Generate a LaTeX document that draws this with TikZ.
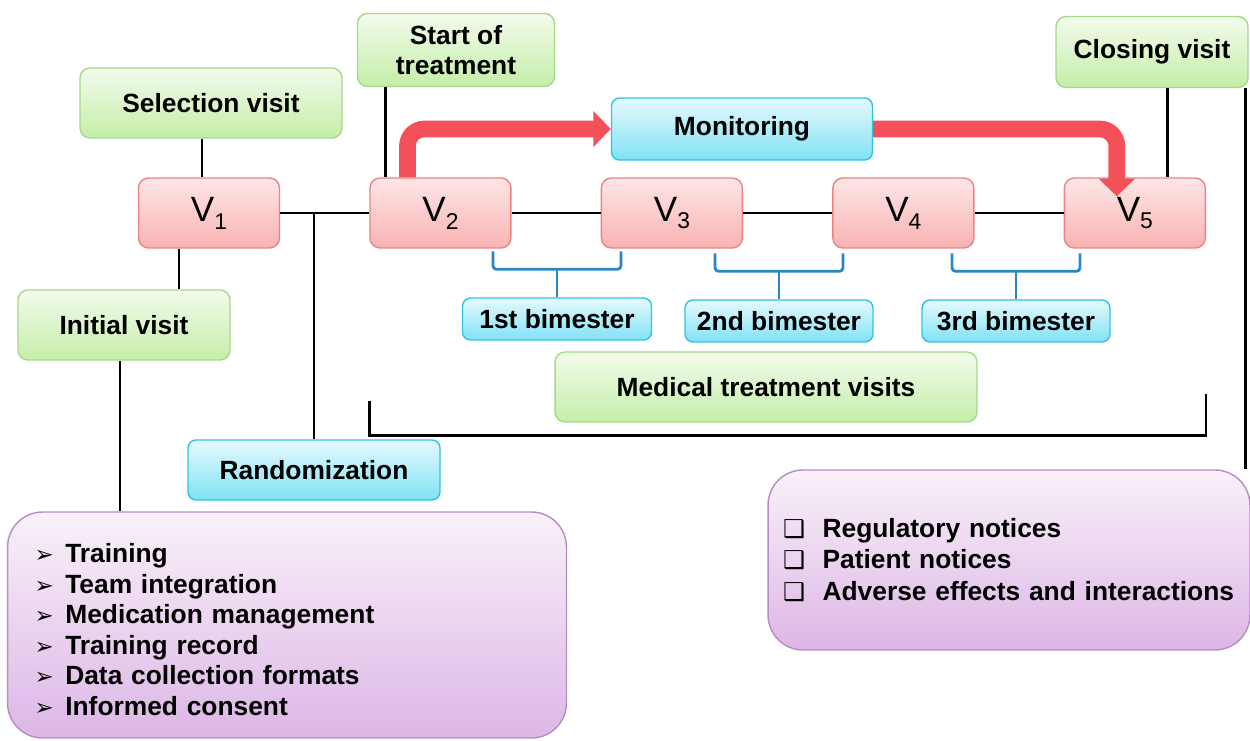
\documentclass[tikz,border=0pt]{standalone}
\usepackage{fontspec}
\setmainfont{Liberation Sans}
\newfontfamily\symfont{DejaVu Sans}
\usepackage{xcolor}
\usetikzlibrary{positioning,calc,arrows.meta}

\definecolor{visittop}{HTML}{FFE6E6}
\definecolor{visitbot}{HTML}{F8B2B2}
\definecolor{visitline}{HTML}{EE8282}
\definecolor{phasetop}{HTML}{F3FBEC}
\definecolor{phasebot}{HTML}{C4EEA8}
\definecolor{phaseline}{HTML}{A6D88C}
\definecolor{notetop}{HTML}{E6F9FE}
\definecolor{notebot}{HTML}{80E2F4}
\definecolor{noteline}{HTML}{30C4DE}
\definecolor{listtop}{HTML}{F9F1F9}
\definecolor{listbot}{HTML}{DDB6E6}
\definecolor{listline}{HTML}{B68CC4}
\definecolor{braceblue}{HTML}{2B86C5}
\definecolor{flowred}{HTML}{F4505A}

\tikzset{visit/.style = {rectangle,rounded corners=0.2cm,draw=visitline,thick,top color=visittop,bottom color=visitbot,
                         minimum width=2.82cm,minimum height=1.4cm,font=\fontsize{20}{24}\selectfont}}
\tikzset{phase/.style = {rectangle,rounded corners=0.2cm,draw=phaseline,thick,top color=phasetop,bottom color=phasebot,
                         font=\fontsize{15}{17.4}\selectfont\bfseries,align=center}}
\tikzset{note/.style = {rectangle,rounded corners=0.16cm,draw=noteline,thick,top color=notetop,bottom color=notebot,
                        font=\fontsize{15}{17.4}\selectfont\bfseries}}
\tikzset{listbox/.style = {rectangle,rounded corners=0.7cm,draw=listline,thick,top color=listtop,bottom color=listbot,
                           font=\fontsize{15}{17.4}\selectfont\bfseries,align=left}}
\tikzset{link/.style = {line width=1.6pt}}
\tikzset{bracket/.style = {draw=braceblue,line width=1.6pt,rounded corners=2pt}}
\tikzset{flow/.style = {draw=flowred,line width=9.5pt,rounded corners=0.34cm,-{Triangle[width=20pt,length=10pt]}}}

\newcommand{\visitname}[1]{V\raisebox{-4.5pt}{\fontsize{13}{13}\selectfont #1}}
\newcommand{\arrowitem}{\makebox[17.5pt][l]{\symfont\fontsize{13}{13}\selectfont ➢}}
\newcommand{\boxitem}{\makebox[22.5pt][l]{\symfont\fontsize{14}{14}\selectfont ❑}}

\begin{document}
\begin{tikzpicture}[x=0.02cm,y=-0.02cm,node distance=4.63cm]
    \useasboundingbox (0,0) rectangle (1250,740);

    % visits on the time line
    \node[visit] (v1) at (209,213) {\visitname{1}};
    \node[visit] (v2) [right of=v1] {\visitname{2}};
    \node[visit] (v3) [right of=v2] {\visitname{3}};
    \node[visit] (v4) [right of=v3] {\visitname{4}};
    \node[visit] (v5) [right of=v4] {\visitname{5}};

    % phases
    \node[phase,minimum width=5.24cm,minimum height=1.4cm] (sel) at (211,103) {Selection visit};
    \node[phase,minimum width=3.94cm,minimum height=1.46cm] (start) at (456,50) {Start of\\treatment};
    \node[phase,minimum width=3.84cm,minimum height=1.42cm] (closing) at (1152,52) {Closing visit};
    \node[phase,minimum width=4.24cm,minimum height=1.4cm] (initial) at (124,325) {Initial visit};
    \node[phase,minimum width=8.44cm,minimum height=1.4cm] (med) at (766,387) {Medical treatment visits};

    \node[note,minimum width=5.22cm,minimum height=1.24cm] (mon) at (742,129) {Monitoring};
    \node[note,minimum width=5.04cm,minimum height=1.2cm] (rand) at (314,470) {Randomization};
    \node[note,minimum width=3.78cm,minimum height=0.84cm] (b1) at (557,319) {1st bimester};
    \node[note,minimum width=3.76cm,minimum height=0.84cm] (b2) at (779,321) {2nd bimester};
    \node[note,minimum width=3.76cm,minimum height=0.84cm] (b3) at (1016,321) {3rd bimester};

    \node[listbox,minimum width=11.18cm,minimum height=4.52cm,text width=10.1cm,inner xsep=0.54cm] (prep) at (287,625)
        {\rule{0pt}{16pt}\arrowitem Training\\\arrowitem Team integration\\\arrowitem Medication management\\
         \arrowitem Training record\\\arrowitem Data collection formats\\\arrowitem Informed consent};
    \node[listbox,minimum width=9.64cm,minimum height=3.6cm,text width=9.04cm,inner xsep=0.3cm,
          font=\fontsize{15}{17.9}\selectfont\bfseries] (notices) at (1009,560)
        {\boxitem Regulatory notices\\\boxitem Patient notices\\\boxitem Adverse effects and interactions};

    % connectors
    \draw[link] (v1.east) -- (v2.west);
    \draw[link] (v2.east) -- (v3.west);
    \draw[link] (v3.east) -- (v4.west);
    \draw[link] (v4.east) -- (v5.west);
    \draw[link] ([xshift=-0.18cm]sel.south) -- ([xshift=-0.18cm]sel.south |- v1.north);
    \draw[link] ([xshift=-0.6cm]v1.south) -- ([xshift=-0.6cm]v1.south |- initial.north);
    \draw[link] ([xshift=-0.08cm]initial.south) -- ([xshift=-0.08cm]initial.south |- prep.north);
    \draw[link] (rand.north) -- (rand.north |- v1.east);
    \draw[link] ([xshift=0.32cm]v2.north west) -- ([xshift=0.32cm]v2.north west |- start.south);
    \draw[link] ([xshift=0.66cm]v5.north) -- ([xshift=0.66cm]v5.north |- closing.south);
    \draw[link] ([xshift=-0.06cm]closing.south east) -- ([xshift=-0.06cm]closing.south east |- notices.north);
    \draw[link] ($(v2.south west)+(0,152)$) -- ($(v2.south west)+(0,187)$) -| ($(v5.south east)+(0,145)$);

    % bimester braces
    \foreach \b in {b1,b2,b3}{
        \draw[bracket] ($(\b.north)+(-64,-46)$) -- ++(0,18) -- ++(128,0) -- ++(0,-18);
        \draw[bracket] ($(\b.north)+(0,-28)$) -- (\b.north);
    }

    % monitoring flow
    \draw[flow] ([xshift=-0.66cm]v2.north) |- (mon.west);
    \draw[flow] (mon.east) -| ([xshift=-0.36cm,yshift=-0.38cm]v5.north);
\end{tikzpicture}
\end{document}
